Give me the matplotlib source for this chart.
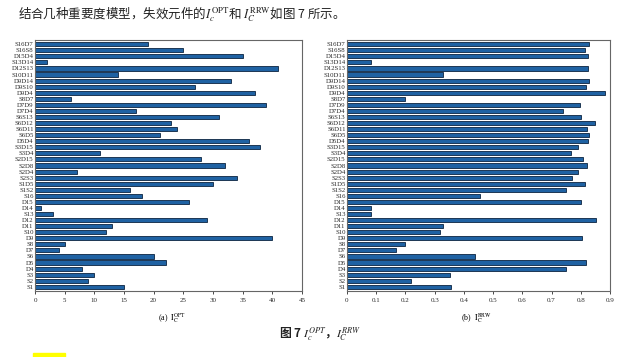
import matplotlib
matplotlib.use("Agg")
import matplotlib.pyplot as plt
from matplotlib.patches import Rectangle

plt.rcParams['mathtext.fontset'] = 'stix'

# 失效元件 (从上到下)
labels = ["S16D7", "S16S8", "D15D4", "S13D14", "D12S13", "S10D11", "D9D14", "D9S10",
          "D9D4", "S8D7", "D7D9", "D7D4", "S6S13", "S6D12", "S6D11", "S6D5", "D5D4",
          "S3D15", "S3D4", "S2D15", "S2D8", "S2D4", "S2S3", "S1D5", "S1S2", "S16",
          "D15", "D14", "S13", "D12", "D11", "S10", "D9", "S8", "D7", "S6", "D5",
          "D4", "S3", "S2", "S1"]

# (a) OPT 重要度排序
opt = [19, 25, 35, 2, 41, 14, 33, 27, 37, 6, 39, 17, 31, 23, 24, 21, 36, 38, 11,
       28, 32, 7, 34, 30, 16, 18, 26, 1, 3, 29, 13, 12, 40, 5, 4, 20, 22, 8, 10, 9, 15]

# (b) RRW 重要度
rrw = [0.827, 0.815, 0.826, 0.081, 0.826, 0.327, 0.829, 0.817, 0.883, 0.20, 0.797,
       0.738, 0.802, 0.85, 0.82, 0.829, 0.826, 0.792, 0.766, 0.806, 0.821, 0.792,
       0.771, 0.814, 0.751, 0.456, 0.80, 0.081, 0.081, 0.851, 0.328, 0.317, 0.804,
       0.198, 0.166, 0.438, 0.818, 0.75, 0.354, 0.219, 0.356]

W, H = 639, 357
fig = plt.figure(figsize=(W / 100, H / 100), dpi=100)

ypos = list(range(len(labels)))[::-1]
bar_color = '#1f62a3'
edge_color = '#0b2440'


def make_axes(x0, x1, y0, y1):
    return fig.add_axes([x0 / W, 1 - y1 / H, (x1 - x0) / W, (y1 - y0) / H])


ax1 = make_axes(35, 302, 40, 291)
ax2 = make_axes(347, 610, 40, 291)

for ax, vals, xmax, step in [(ax1, opt, 45, 5), (ax2, rrw, 0.9, 0.1)]:
    ax.barh(ypos, vals, height=0.68, color=bar_color, edgecolor=edge_color, linewidth=0.6)
    ax.set_xlim(0, xmax)
    ax.set_ylim(-0.7, len(labels) - 0.3)
    ax.set_yticks(ypos)
    ax.set_yticklabels(labels, fontsize=4.9, family='Liberation Serif', color='#2a2a2a')
    n = int(round(xmax / step))
    ticks = [i * step for i in range(n + 1)]
    ax.set_xticks(ticks)
    ax.set_xticklabels([f"{t:g}" for t in ticks], fontsize=5, family='Liberation Serif',
                       color='#2a2a2a')
    ax.tick_params(axis='y', length=0, pad=1)
    ax.tick_params(axis='x', length=2, width=0.5, pad=3, direction='out')
    for s in ax.spines.values():
        s.set_color('#666666')
        s.set_linewidth(0.8)

# 子图标题
fig.text(172 / W, 1 - 318 / H, r"(a)  $\mathrm{I_C^{OPT}}$", ha='center', va='center',
         fontsize=5.8, family='Liberation Serif')
fig.text(476 / W, 1 - 318 / H, r"(b)  $\mathrm{I_C^{RRW}}$", ha='center', va='center',
         fontsize=5.8, family='Liberation Serif')

# 正文与图注
fig.text(18 / W, 1 - 14 / H,
         r"结合几种重要度模型，失效元件的$I_c^{\mathrm{OPT}}$和 $I_C^{\mathrm{RRW}}$如图 7 所示。",
         ha='left', va='center', fontsize=9, family=['Noto Sans CJK SC', 'DejaVu Sans'],
         color='#222222')
fig.text(320 / W, 1 - 333 / H, r"图 7 $I_c^{OPT}$，$I_C^{RRW}$", ha='center', va='center',
         fontsize=8.5, fontweight='bold', family=['Noto Sans CJK SC', 'DejaVu Sans'],
         color='#222222')

fig.patches.append(Rectangle((33 / W, 0), 32 / W, 4 / H, transform=fig.transFigure,
                             color='#ffff00', zorder=5))

fig.savefig("out.png", dpi=100)
